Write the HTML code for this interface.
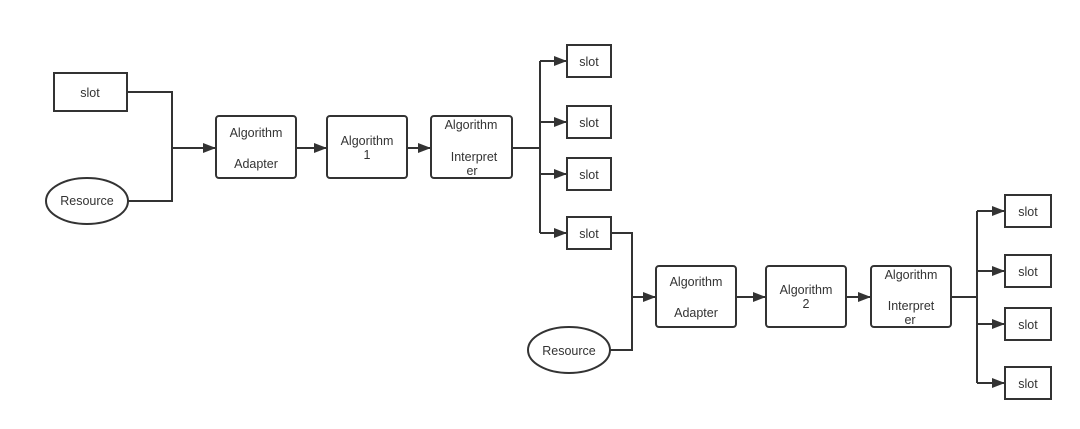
<!DOCTYPE html>
<html><head><meta charset="utf-8"><style>
html,body{margin:0;padding:0;background:#fff;width:1080px;height:429px;overflow:hidden}
text{font-family:"Liberation Sans",sans-serif;font-size:12.5px;fill:#333;text-anchor:middle}
</style></head><body>
<svg width="1080" height="429" viewBox="0 0 1080 429" xmlns="http://www.w3.org/2000/svg">
<defs><marker id="a" markerWidth="13" markerHeight="12" refX="12" refY="6" orient="auto" markerUnits="userSpaceOnUse"><path d="M0,1 L13,6 L0,11 z" fill="#333"/></marker></defs>
<g fill="none" stroke="#333" stroke-width="2">
<rect x="54" y="73" width="73" height="38"/>
<ellipse cx="87" cy="201" rx="41" ry="23"/>
<path d="M127,92 H172 V201 H128"/>
<path d="M172,148 H215" marker-end="url(#a)"/>
<rect x="216" y="116" width="80" height="62" rx="3"/>
<path d="M296,148 H326" marker-end="url(#a)"/>
<rect x="327" y="116" width="80" height="62" rx="3"/>
<path d="M407,148 H430" marker-end="url(#a)"/>
<rect x="431" y="116" width="81" height="62" rx="3"/>
<path d="M512,148 H540"/>
<path d="M540,61 V233"/>
<path d="M540,61 H566" marker-end="url(#a)"/>
<path d="M540,122 H566" marker-end="url(#a)"/>
<path d="M540,174 H566" marker-end="url(#a)"/>
<path d="M540,233 H566" marker-end="url(#a)"/>
<rect x="567" y="45" width="44" height="32"/>
<rect x="567" y="106" width="44" height="32"/>
<rect x="567" y="158" width="44" height="32"/>
<rect x="567" y="217" width="44" height="32"/>
<ellipse cx="569" cy="350" rx="41" ry="23"/>
<path d="M611,233 H632 V350 H610"/>
<path d="M632,297 H655" marker-end="url(#a)"/>
<rect x="656" y="266" width="80" height="61" rx="3"/>
<path d="M736,297 H765" marker-end="url(#a)"/>
<rect x="766" y="266" width="80" height="61" rx="3"/>
<path d="M846,297 H870" marker-end="url(#a)"/>
<rect x="871" y="266" width="80" height="61" rx="3"/>
<path d="M951,297 H977"/>
<path d="M977,211 V383"/>
<path d="M977,211 H1004" marker-end="url(#a)"/>
<path d="M977,271 H1004" marker-end="url(#a)"/>
<path d="M977,324 H1004" marker-end="url(#a)"/>
<path d="M977,383 H1004" marker-end="url(#a)"/>
<rect x="1005" y="195" width="46" height="32"/>
<rect x="1005" y="255" width="46" height="32"/>
<rect x="1005" y="308" width="46" height="32"/>
<rect x="1005" y="367" width="46" height="32"/>
</g>
<text x="90" y="97">slot</text>
<text x="87" y="205">Resource</text>
<text x="256" y="137">Algorithm</text>
<text x="256" y="168">Adapter</text>
<text x="367" y="145">Algorithm</text>
<text x="367" y="159">1</text>
<text x="471" y="129">Algorithm</text>
<text x="474" y="161">Interpret</text>
<text x="472" y="175">er</text>
<text x="589" y="66">slot</text>
<text x="589" y="127">slot</text>
<text x="589" y="179">slot</text>
<text x="589" y="238">slot</text>
<text x="569" y="355">Resource</text>
<text x="696" y="286">Algorithm</text>
<text x="696" y="317">Adapter</text>
<text x="806" y="294">Algorithm</text>
<text x="806" y="308">2</text>
<text x="911" y="279">Algorithm</text>
<text x="911" y="310">Interpret</text>
<text x="910" y="324">er</text>
<text x="1028" y="216">slot</text>
<text x="1028" y="276">slot</text>
<text x="1028" y="329">slot</text>
<text x="1028" y="388">slot</text>
</svg>
</body></html>
